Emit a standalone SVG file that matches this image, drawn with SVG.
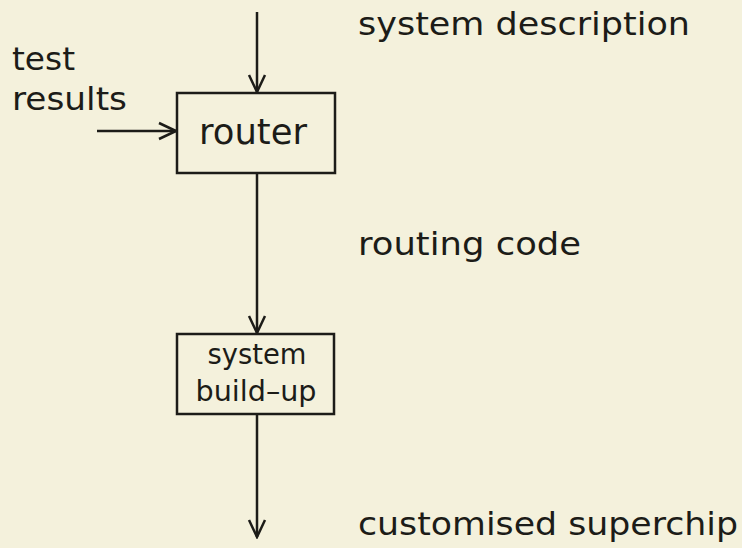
<svg xmlns="http://www.w3.org/2000/svg" width="742" height="548" viewBox="0 0 742 548">
<style>
.bg{fill:#f4f1dc}
.box{fill:none;stroke:#1c1c18;stroke-width:2.5}
.ln{fill:none;stroke:#1c1c18;stroke-width:2.5}
.t{font-family:"DejaVu Sans","Liberation Sans",sans-serif;fill:#1c1c18}
</style>
<defs>
<marker id="v" viewBox="-18 -10 20 20" refX="0" refY="0" markerWidth="20" markerHeight="20" markerUnits="userSpaceOnUse" orient="auto">
<path d="M-17,-8 L0,0 L-17,8" fill="none" stroke="#1c1c18" stroke-width="2.5"/>
</marker>
</defs>
<rect class="bg" x="0" y="0" width="742" height="548"/>
<g id="connectors">
<line class="ln" x1="257" y1="12" x2="257" y2="92" marker-end="url(#v)"/>
<line class="ln" x1="97" y1="131" x2="176" y2="131" marker-end="url(#v)"/>
<line class="ln" x1="257" y1="173" x2="257" y2="333" marker-end="url(#v)"/>
<line class="ln" x1="257" y1="414" x2="257" y2="537" marker-end="url(#v)"/>
</g>
<g id="router">
<rect class="box" x="177" y="93" width="158" height="80"/>
<text class="t" x="253" y="144" font-size="35" text-anchor="middle" textLength="108" lengthAdjust="spacingAndGlyphs">router</text>
</g>
<g id="buildup">
<rect class="box" x="177" y="334" width="157" height="80"/>
<text class="t" x="257" y="364" font-size="28" text-anchor="middle" textLength="99" lengthAdjust="spacingAndGlyphs">system</text>
<text class="t" x="256" y="401" font-size="28" text-anchor="middle" textLength="121" lengthAdjust="spacingAndGlyphs">build–up</text>
</g>
<g id="labels">
<text class="t" x="358" y="35" font-size="32" textLength="332" lengthAdjust="spacingAndGlyphs">system description</text>
<text class="t" x="12" y="70" font-size="32" textLength="63" lengthAdjust="spacingAndGlyphs">test</text>
<text class="t" x="12" y="110" font-size="32" textLength="115" lengthAdjust="spacingAndGlyphs">results</text>
<text class="t" x="358" y="255" font-size="32" textLength="223" lengthAdjust="spacingAndGlyphs">routing code</text>
<text class="t" x="358" y="535" font-size="32" textLength="380" lengthAdjust="spacingAndGlyphs">customised superchip</text>
</g>
</svg>
